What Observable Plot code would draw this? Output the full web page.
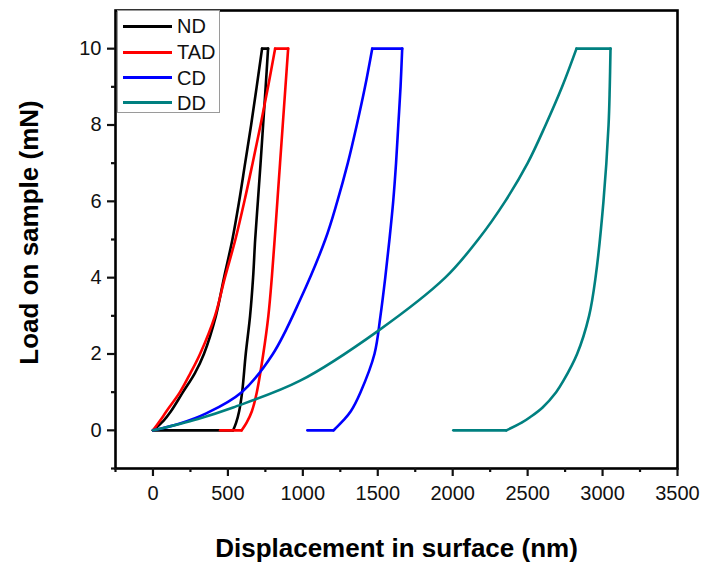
<!DOCTYPE html>
<html><head><meta charset="utf-8">
<script src="https://cdn.jsdelivr.net/npm/d3@7"></script>
<script src="https://cdn.jsdelivr.net/npm/@observablehq/plot@0.6"></script>
<style>
body{margin:0;background:#fff;font-family:"Liberation Sans",Arial,sans-serif}
#wrap{position:relative;width:707px;height:566px;overflow:hidden}
#legend{position:absolute;left:117px;top:10px;width:103px;height:103px;border:1px solid #9a9a9a;box-sizing:border-box;background:#fff}
.row{position:absolute;left:0;height:26px;width:100px}
.sw{position:absolute;left:5px;width:49px;height:3px;top:-1.5px}
.lab{position:absolute;left:59px;top:-12px;font-size:20px;color:#111;line-height:24px}
</style></head>
<body><div id="wrap"><div id="legend"></div></div>
<script>
const series = ["ND", "TAD", "CD", "DD"];
const colors = ["#000000", "#ff0000", "#0000ff", "#008080"];

// ND (black): loading, hold, unloading, retraction baseline
const ndX = [0, 70, 120, 200, 280, 340, 420, 474, 530, 575, 615, 655, 692, 728,
             768, 752, 735, 718, 700, 682, 668, 648, 619, 595, 575, 555, 535, 0];
const ndY = [0, 0.25, 0.5, 1, 1.5, 2, 3, 4, 5, 6, 7, 8, 9, 10,
             10, 9, 8, 7, 6, 5, 4, 3, 2, 1, 0.5, 0.2, 0, 0];

// TAD (red)
const tadX = [0, 47, 90, 180, 250, 314, 414, 480, 550, 610, 665, 718, 768, 815,
              902, 884, 866, 848, 830, 812, 793, 770, 736, 693, 660, 625, 592, 448];
const tadY = [0, 0.25, 0.5, 1, 1.5, 2, 3, 4, 5, 6, 7, 8, 9, 10,
              10, 9, 8, 7, 6, 5, 4, 3, 2, 1, 0.5, 0.2, 0, 0];

// CD (blue)
const cdX = [0, 180, 359, 592, 800, 982, 1150, 1230, 1300, 1360, 1415, 1463,
             1663, 1652, 1637, 1622, 1603, 1578, 1550, 1518, 1478, 1385, 1320, 1270, 1205, 1030];
const cdY = [0, 0.18, 0.45, 1, 2, 3.42, 5, 6, 7, 8, 9, 10,
             10, 9, 8, 7, 6, 5, 4, 3, 2, 1, 0.5, 0.26, 0, 0];

// DD (teal)
const ddX = [0, 300, 535, 982, 1500, 1950, 2170, 2350, 2500, 2620, 2730, 2826,
             3053, 3048, 3040, 3006, 2953, 2910, 2830, 2739, 2690, 2600, 2518, 2460, 2358, 2004];
const ddY = [0, 0.3, 0.6, 1.3, 2.6, 4, 5, 6, 7, 8, 9, 10,
             10, 9, 8, 6, 4, 3, 2, 1.3, 1, 0.6, 0.35, 0.2, 0, 0];

const xMajor = [0, 500, 1000, 1500, 2000, 2500, 3000, 3500];
const xMinor = [-250, 250, 750, 1250, 1750, 2250, 2750, 3250];
const yMajor = [0, 2, 4, 6, 8, 10];
const yMinor = [-1, 1, 3, 5, 7, 9];

const xs = [ndX, tadX, cdX, ddX];
const ys = [ndY, tadY, cdY, ddY];
// split each curve into loading / hold / unloading / baseline pieces
const rows = [];
series.forEach((s, k) => {
  const X = xs[k], Y = ys[k];
  const top = Y.indexOf(10);            // end of loading
  const hold = top + 1;                 // end of hold
  let foot = hold; while (Y[foot] !== 0) foot++;   // end of unloading
  const pieces = [[0, top], [top, hold], [hold, foot], [foot, X.length - 1]];
  pieces.forEach(([a, b], p) => {
    for (let i = a; i <= b; i++) rows.push({s, seg: s + p, x: X[i], y: Y[i]});
  });
});

const chart = Plot.plot({
  width: 707, height: 566,
  marginLeft: 115, marginRight: 30, marginTop: 10, marginBottom: 98,
  style: {fontFamily: "'Liberation Sans', Arial, sans-serif", fontSize: "20px", color: "#111", background: "#fff"},
  x: {domain: [-250, 3500]},
  y: {domain: [-1, 11]},
  color: {domain: series, range: colors},
  marks: [
    Plot.line(rows, {x: "x", y: "y", z: "seg", stroke: "s", strokeWidth: 2.6, strokeLinecap: "round", curve: "catmull-rom"}),
    Plot.frame({stroke: "#000", strokeWidth: 2.6}),
    Plot.axisX({ticks: xMajor, tickSize: 8, tickPadding: 9, strokeWidth: 2.2, tickFormat: d => String(d), label: null, fontSize: 20}),
    Plot.axisX({ticks: xMinor, tickSize: 4, strokeWidth: 2.2, tickFormat: () => "", label: null}),
    Plot.axisY({ticks: yMajor, tickSize: 8, tickPadding: 6, strokeWidth: 2.2, tickFormat: d => String(d), label: null, fontSize: 20}),
    Plot.axisY({ticks: yMinor, tickSize: 4, strokeWidth: 2.2, tickFormat: () => "", label: null}),
    Plot.text(["Displacement in surface (nm)"], {frameAnchor: "bottom", dy: 80, textAnchor: "middle", lineAnchor: "middle", fontSize: 26, fontWeight: "bold", fill: "#000"}),
    Plot.text(["Load on sample (mN)"], {frameAnchor: "left", dx: -86, dy: -7, rotate: -90, textAnchor: "middle", lineAnchor: "middle", fontSize: 26, fontWeight: "bold", fill: "#000"})
  ]
});
document.getElementById("wrap").prepend(chart);

const legend = document.getElementById("legend");
const rowMid = [15, 41, 66.5, 91.5];
series.forEach((s, k) => {
  const r = document.createElement("div");
  r.className = "row";
  r.style.top = rowMid[k] + "px";
  r.innerHTML = `<div class="sw" style="background:${colors[k]}"></div><div class="lab">${s}</div>`;
  legend.appendChild(r);
});
</script>
</body></html>
